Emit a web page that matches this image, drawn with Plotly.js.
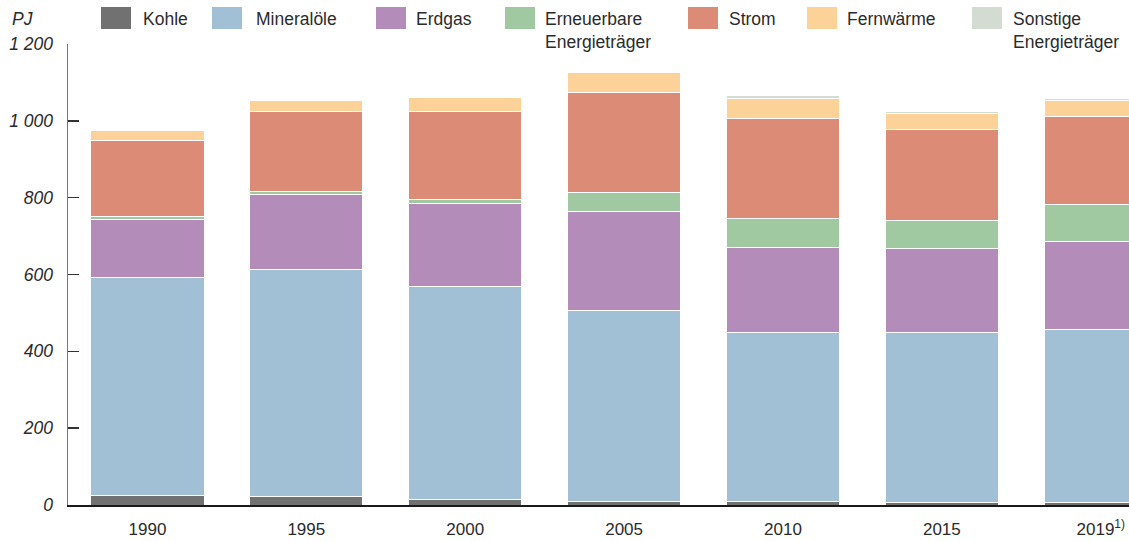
<!DOCTYPE html>
<html>
<head>
<meta charset="utf-8">
<script src="https://cdn.plot.ly/plotly-3.0.1.min.js"></script>
<style>
html,body{margin:0;padding:0;background:#fff;overflow:hidden;}
#chart{width:1129px;height:541px;}
</style>
</head>
<body>
<div id="chart"></div>
<script>
// Categories (years)
const years = ['1990', '1995', '2000', '2005', '2010', '2015', '2019'];
const yearLabels = ['1990', '1995', '2000', '2005', '2010', '2015', '2019<sup>1)</sup>'];

// Series values in PJ
const kohle       = [26, 23, 14, 9, 8, 7, 6];
const mineraloele = [566, 591, 555, 498, 440, 441, 452];
const erdgas      = [151, 193, 216, 258, 221, 220, 229];
const erneuerbare = [9, 9, 10, 48, 76, 72, 96];
const strom       = [196, 208, 230, 261, 262, 238, 228];
const fernwaerme  = [27, 28, 37, 51, 52, 41, 42];
const sonstige    = [0, 0, 0, 3, 6, 6, 6];

// Series names and colours
const seriesNames = ['Kohle', 'Mineralöle', 'Erdgas', 'Erneuerbare<br>Energieträger', 'Strom', 'Fernwärme', 'Sonstige<br>Energieträger'];
const seriesColors = ['#717171', '#a1c0d5', '#b48cba', '#a1c9a1', '#db8b76', '#fdd298', '#d3dcd0'];
const seriesData = [kohle, mineraloele, erdgas, erneuerbare, strom, fernwaerme, sonstige];

// Y tick labels
const yTickVals = [0, 200, 400, 600, 800, 1000, 1200];
const yTickText = ['0', '200', '400', '600', '800', '1 000', '1 200'];

const FONT = 'Liberation Sans, Arial, sans-serif';
const TXT = '#2b2b2b';

const traces = seriesData.map((vals, i) => ({
  type: 'bar',
  name: seriesNames[i].replace('<br>', ' '),
  x: years,
  y: vals,
  marker: { color: seriesColors[i], line: { color: '#ffffff', width: 1 } },
  showlegend: false,
  hoverinfo: 'none'
}));

// pixel -> paper conversion helpers for custom legend
const L = 68, T = 44, W = 1061, H = 461;
const px = v => (v - L) / W;
const py = v => (T + H - v) / H;

const legendSwatchX = [101, 212, 376, 505, 688, 807, 972];
const legendTextX   = [141, 254, 414, 543, 727, 845, 1011];

const shapes = [];
const annotations = [];
seriesNames.forEach((nm, i) => {
  shapes.push({
    type: 'rect', xref: 'paper', yref: 'paper',
    x0: px(legendSwatchX[i]), x1: px(legendSwatchX[i] + 30),
    y0: py(7), y1: py(29),
    fillcolor: seriesColors[i], line: { width: 0 }
  });
  const multi = nm.indexOf('<br>') >= 0;
  annotations.push({
    xref: 'paper', yref: 'paper',
    x: px(legendTextX[i]), y: multi ? py(7) : py(19),
    xanchor: 'left', yanchor: multi ? 'top' : 'middle',
    align: 'left',
    text: nm, showarrow: false,
    font: { family: FONT, size: 17.5, color: TXT }
  });
});
annotations.push({
  xref: 'paper', yref: 'paper',
  x: px(10), y: py(19), xanchor: 'left', yanchor: 'middle',
  text: 'PJ', showarrow: false,
  font: { family: FONT, size: 17.5, color: TXT, style: 'italic' }
});

const layout = {
  width: 1129, height: 541,
  margin: { l: L, r: 0, t: T, b: 541 - T - H, pad: 0 },
  paper_bgcolor: '#ffffff', plot_bgcolor: '#ffffff',
  barmode: 'stack',
  bargap: 0.287,
  showlegend: false,
  hovermode: false,
  xaxis: {
    type: 'category',
    range: [-0.5, 6.178],
    tickvals: years,
    ticktext: yearLabels,
    showgrid: false, zeroline: false,
    showline: true, linecolor: '#1a1a1a', linewidth: 1.5,
    ticks: '',
    ticklabelstandoff: 8,
    tickfont: { family: FONT, size: 17, color: TXT }
  },
  yaxis: {
    range: [0, 1200],
    tickvals: yTickVals,
    ticktext: yTickText,
    showgrid: false, zeroline: false,
    showline: true, linecolor: '#777777', linewidth: 1.5,
    ticks: 'inside', ticklen: 11, tickwidth: 1.5, tickcolor: '#333333',
    ticklabelstandoff: 10,
    tickfont: { family: FONT, size: 17.5, color: TXT, style: 'italic' }
  },
  shapes: shapes,
  annotations: annotations
};

Plotly.newPlot('chart', traces, layout, { staticPlot: true, displayModeBar: false });
</script>
</body>
</html>
